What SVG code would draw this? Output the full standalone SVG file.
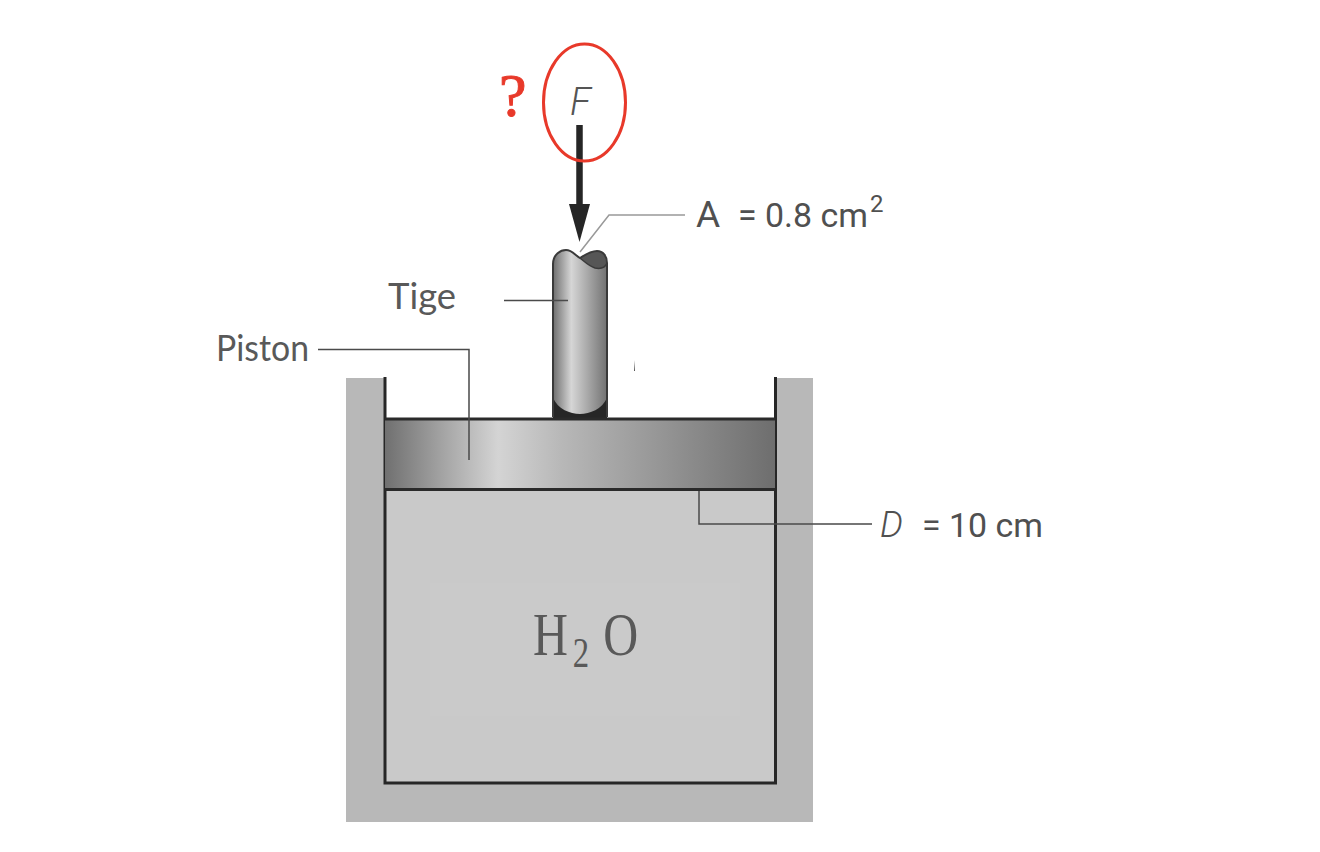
<svg xmlns="http://www.w3.org/2000/svg" width="1320" height="852" viewBox="0 0 1320 852">
<defs>
<linearGradient id="rod" x1="0" x2="1" y1="0" y2="0"><stop offset="0" stop-color="#6e6e6e"/><stop offset="0.34" stop-color="#d6d6d6"/><stop offset="1" stop-color="#727272"/></linearGradient>
<linearGradient id="pist" x1="0" x2="1" y1="0" y2="0"><stop offset="0" stop-color="#707070"/><stop offset="0.16" stop-color="#a8a8a8"/><stop offset="0.29" stop-color="#d4d4d4"/><stop offset="0.45" stop-color="#b8b8b8"/><stop offset="1" stop-color="#6e6e6e"/></linearGradient>
</defs>
<style>
.lbl{font-family:"Lato","Liberation Sans",sans-serif;fill:#595959}
.val{font-family:"Roboto","Liberation Sans",sans-serif;fill:#505050}
.chem{font-family:"Liberation Serif",serif;fill:#595959}
.lead{fill:none;stroke:#4a4a4a;stroke-width:1.5}
.wall{fill:none;stroke:#262626;stroke-width:3}
</style>
<rect width="1320" height="852" fill="#fff"/>
<g id="cylinder">
<path d="M346 378H385V783H775V378H813V822H346Z" fill="#b8b8b8"/>
<rect x="385" y="489" width="390" height="294" fill="#c9c9c9"/>
<rect x="430" y="583" width="310" height="133" fill="#cacaca"/>
<path class="wall" d="M385 377V783H775.500V377"/>
</g>
<g id="rod">
<path d="M553 417V264C553 254 561 250 566 250C572 250 575 255 580 258C586 254 591 251 597 251C603 251 607 256 607 263V417Z" fill="url(#rod)"/>
<path d="M580 258C586 254 591 251 597 251C603 251 607 256 607 263C605 268 600 269 595 268C589 266 585 262 580 258Z" fill="#565656"/>
<path d="M553 398C558 409 570 414 580 414C590 414 602 409 607 398V418H553Z" fill="#262626"/>
<path d="M553 264V417M607 263V417M553 264C553 254 561 250 566 250C572 250 575 255 580 258C586 254 591 251 597 251C603 251 607 256 607 263" fill="none" stroke="#3a3a3a" stroke-width="2"/>
<path d="M580 258C585 262 589 266 595 268C600 269 605 268 607 263" fill="none" stroke="#3a3a3a" stroke-width="1.500"/>
</g>
<g id="piston">
<rect x="385" y="419" width="390" height="70" fill="url(#pist)"/>
<path d="M385 419H775M385 489.500H775" fill="none" stroke="#2a2a2a" stroke-width="3"/>
</g>
<g id="connectors">
<path class="lead" d="M318 349.500H469V460"/>
<path class="lead" d="M504 300.500H568"/>
<path class="lead" d="M699 491V524H872"/>
<path d="M580 252L609 215H685" fill="none" stroke="#999" stroke-width="1.500"/>
<path d="M579.500 125V207" stroke="#262626" stroke-width="6.500" fill="none"/>
<path d="M569 204H590L579.500 242Z" fill="#262626"/>
<path d="M634 371H635L635 360Z" fill="#555"/>
</g>
<g id="force">
<ellipse cx="584.500" cy="102.500" rx="41" ry="58.500" fill="none" stroke="#e8392a" stroke-width="3"/>
<text x="570" y="115" font-family="Roboto,'Liberation Sans',sans-serif" font-size="38" font-weight="300" font-style="italic" fill="#555">F</text>
<text x="499" y="116" font-family="'Liberation Serif',serif" font-size="62" fill="#e8392a" stroke="#e8392a" stroke-width="1">?</text>
</g>
<g id="labels">
<text class="lbl" x="388" y="309" font-size="37" textLength="68" lengthAdjust="spacingAndGlyphs">Tige</text>
<text class="lbl" x="216" y="361" font-size="36" textLength="93" lengthAdjust="spacingAndGlyphs">Piston</text>
<text class="val" x="696" y="227" font-size="37">A</text>
<text class="val" x="738" y="227" font-size="33" textLength="130" lengthAdjust="spacingAndGlyphs">= 0.8 cm</text>
<text class="val" x="870" y="212" font-size="24">2</text>
<text class="val" x="880" y="537" font-size="36" font-weight="300" font-style="italic">D</text>
<text class="val" x="922" y="537" font-size="33.500" textLength="121" lengthAdjust="spacingAndGlyphs">= 10 cm</text>
<text class="chem" transform="translate(533 655) scale(.78 1)" font-size="62">H<tspan x="51" dy="12" font-size="42">2</tspan><tspan x="90" dy="-12">O</tspan></text>
</g>
</svg>
